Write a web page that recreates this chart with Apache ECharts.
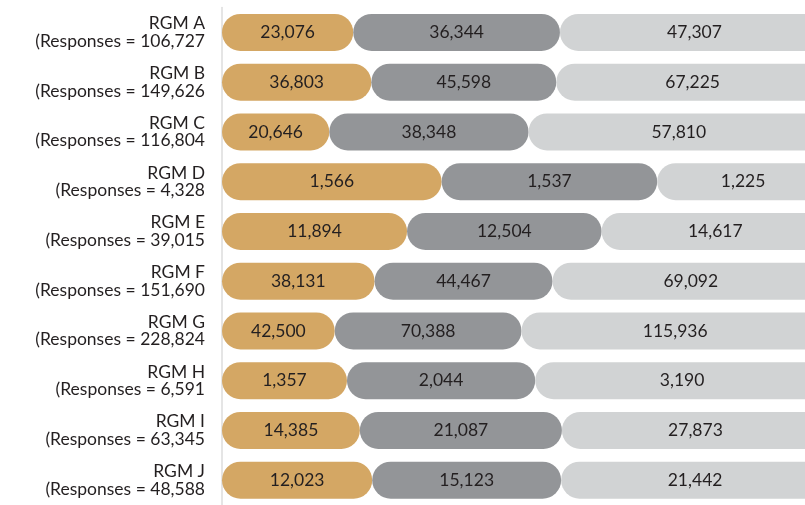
<!DOCTYPE html>
<html>
<head>
<meta charset="utf-8">
<script src="https://cdn.jsdelivr.net/npm/echarts@6/dist/echarts.min.js"></script>
<style>
  html, body { margin: 0; padding: 0; background: #fff; overflow: hidden; }
  /* 图比窗口宽，最右的灰条被窗口截断 */
  #chart { width: 829px; height: 505px; }
</style>
</head>
<body>
<div id="chart"></div>
<script>
// 数据
const groups = ['RGM A', 'RGM B', 'RGM C', 'RGM D', 'RGM E', 'RGM F', 'RGM G', 'RGM H', 'RGM I', 'RGM J'];
const totals = [106727, 149626, 116804, 4328, 39015, 151690, 228824, 6591, 63345, 48588];
const seg1 = [23076, 36803, 20646, 1566, 11894, 38131, 42500, 1357, 14385, 12023];
const seg2 = [36344, 45598, 38348, 1537, 12504, 44467, 70388, 2044, 21087, 15123];
const seg3 = [47307, 67225, 57810, 1225, 14617, 69092, 115936, 3190, 27873, 21442];
const colors = ['#D4A764', '#939598', '#D1D3D4'];

const fmt = n => n.toLocaleString('en-US');
const categories = groups.map((g, i) => g + '\n(Responses = ' + fmt(totals[i]));

// 转成百分比，标签显示原始数值
function makeSeries(values, color) {
    return {
        type: 'bar',
        stack: 'all',
        barWidth: 37,
        itemStyle: { color: color, borderRadius: 18.5 },
        label: {
            show: true,
            position: 'inside',
            color: '#231F20',
            fontFamily: 'Lato',
            fontSize: 17.5,
            formatter: p => fmt(values[p.dataIndex])
        },
        emphasis: { disabled: true },
        data: values.map((v, i) => {
            const sum = seg1[i] + seg2[i] + seg3[i];
            return v / sum * 100;
        })
    };
}

const myChart = echarts.init(document.getElementById('chart'));
myChart.setOption({
    animation: false,
    grid: { left: 222, right: 0, top: 7.5, bottom: -1.5, containLabel: false },
    xAxis: { type: 'value', min: 0, max: 100, show: false },
    yAxis: {
        type: 'category',
        inverse: true,
        data: categories,
        axisTick: { show: false },
        axisLine: { show: true, lineStyle: { color: '#dcdcdc', width: 1.5 } },
        axisLabel: {
            margin: 17,
            align: 'right',
            color: '#231F20',
            fontFamily: 'Lato',
            fontSize: 17.5,
            lineHeight: 17.5
        }
    },
    series: [
        makeSeries(seg1, colors[0]),
        makeSeries(seg2, colors[1]),
        makeSeries(seg3, colors[2])
    ]
});
</script>
</body>
</html>
